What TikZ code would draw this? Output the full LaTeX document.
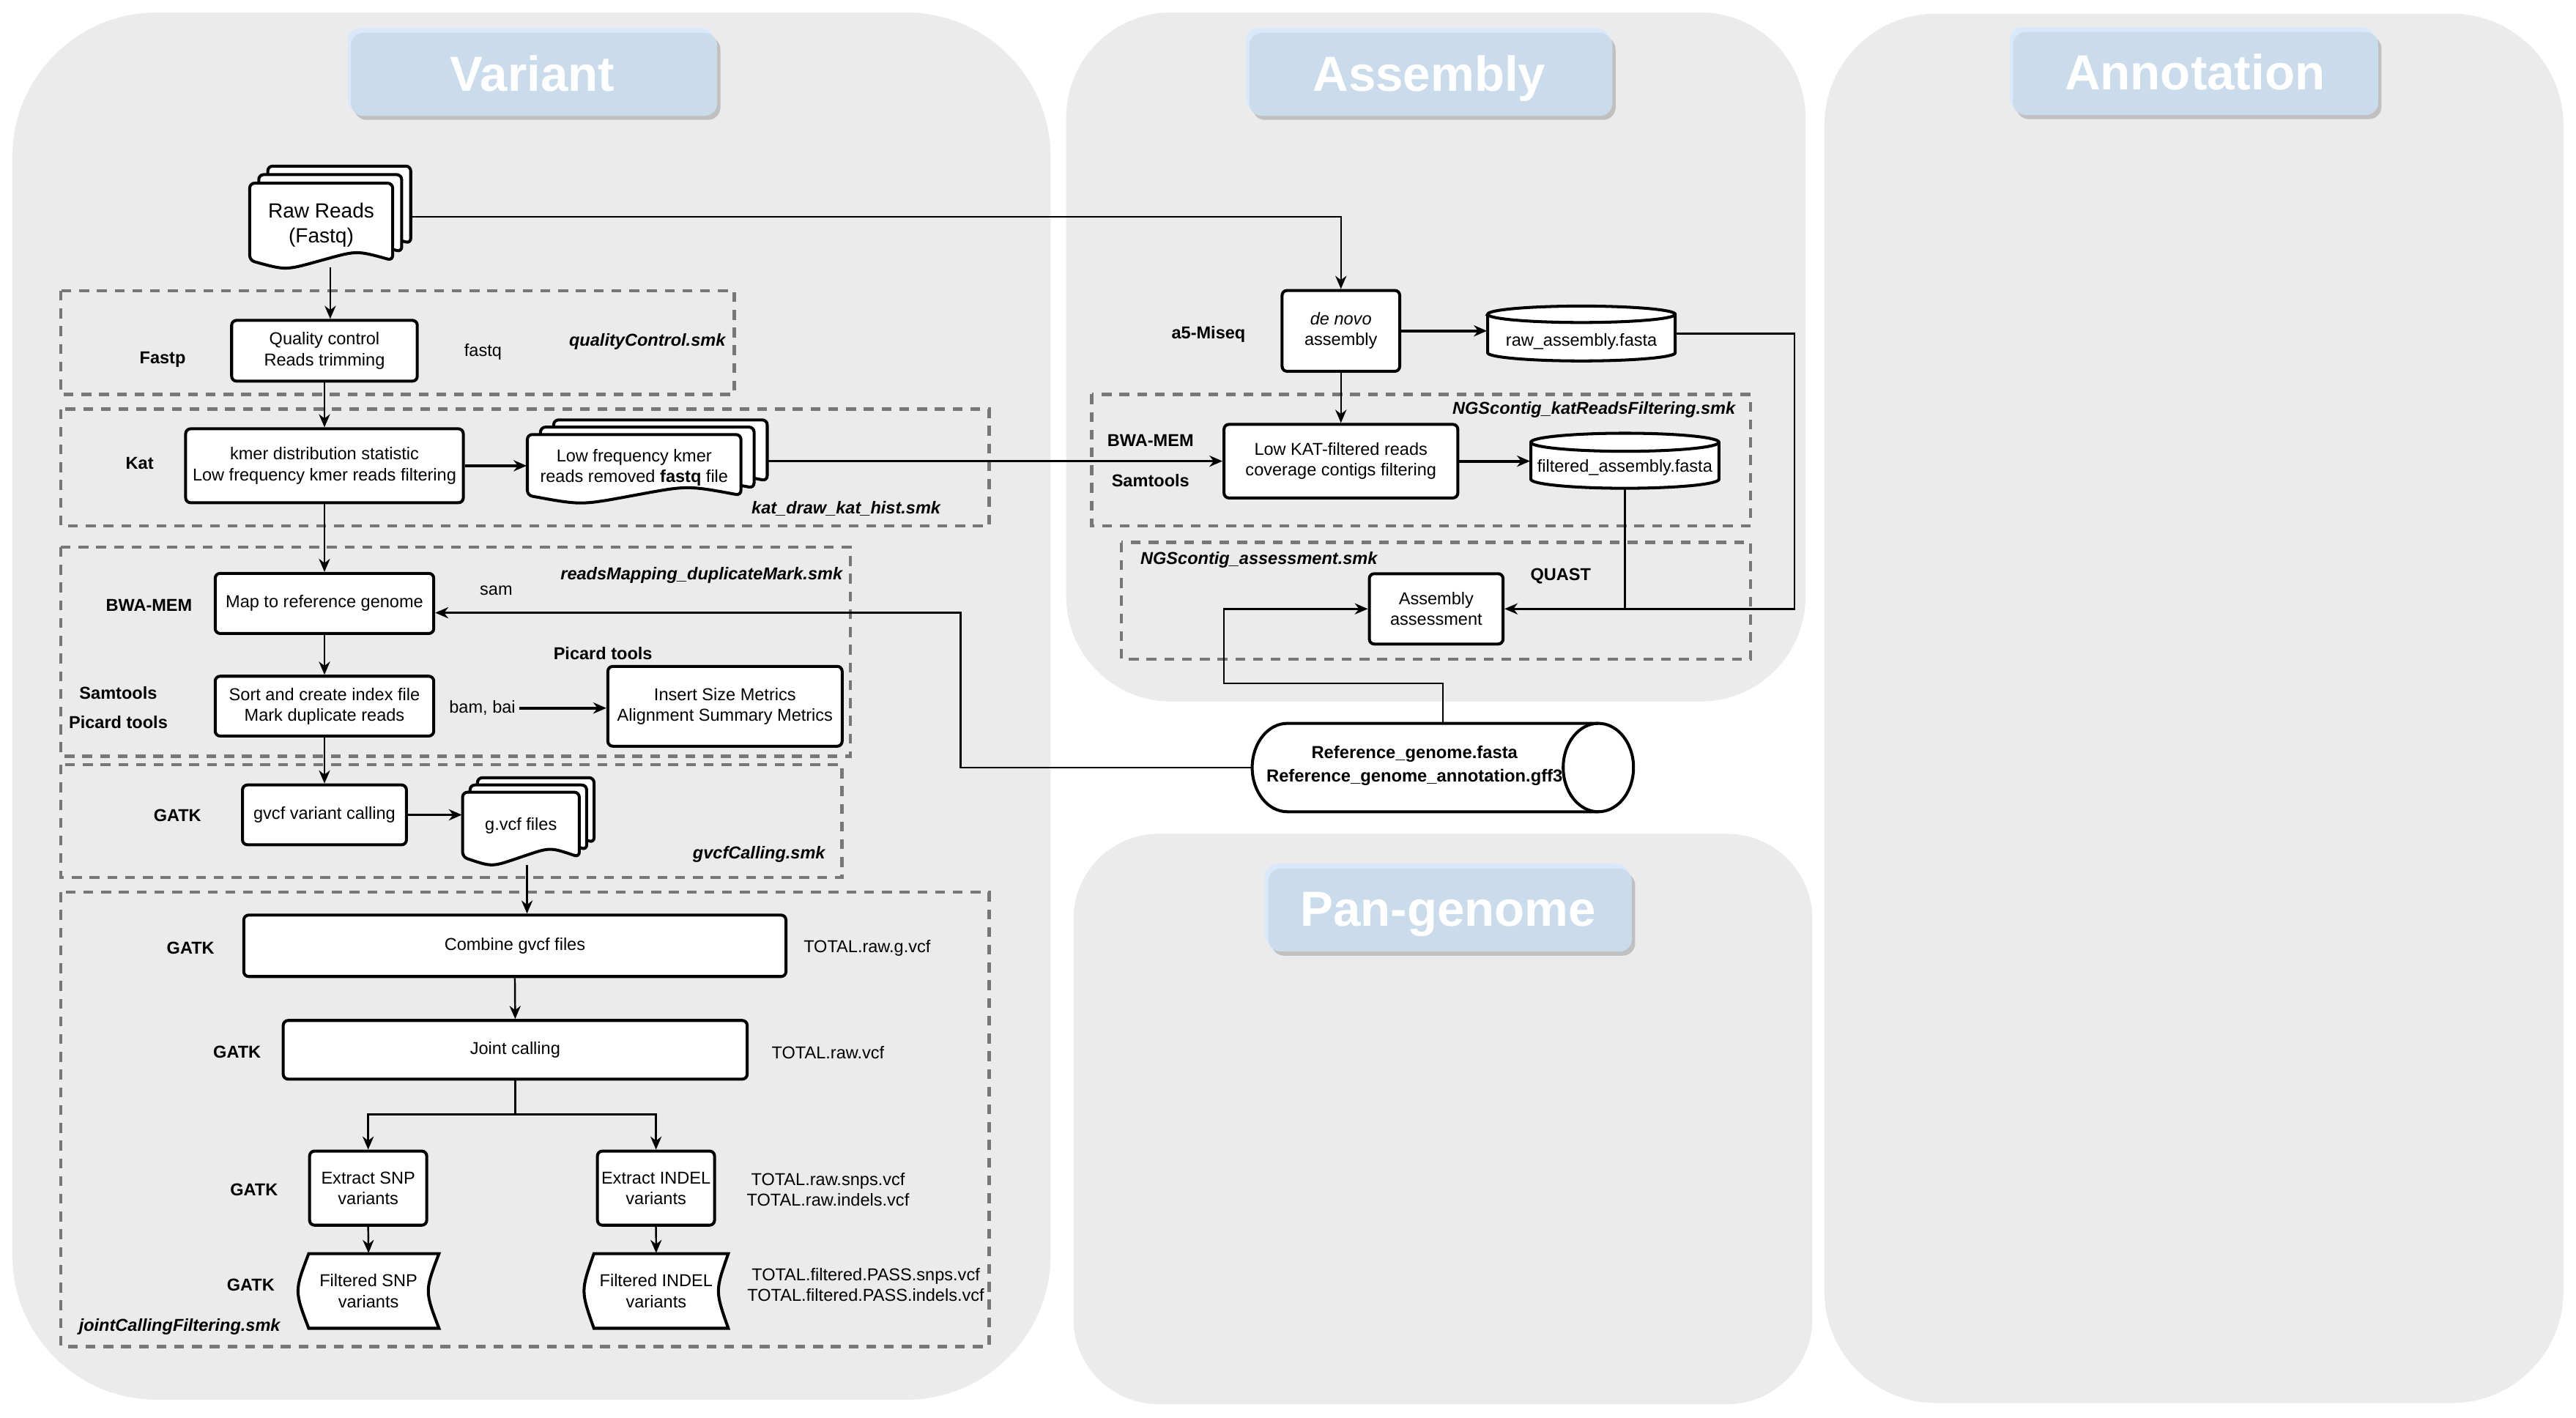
\documentclass[tikz,border=0pt]{standalone}
\usepackage{fontspec}
\setmainfont{Liberation Sans}
\usetikzlibrary{arrows.meta}
\definecolor{panelgray}{HTML}{EBEBEB}
\definecolor{titleblue}{HTML}{CADBEC}
\definecolor{titlelight}{HTML}{DAE8FC}
\definecolor{shadowgray}{HTML}{C0C0C0}
\definecolor{dashgray}{HTML}{777777}
\newcommand\fsn{\fontsize{5.25}{6.25}\selectfont}
% multi-document page: L T W H(wave ends)
\newcommand\mydoc[4]{%
  \path[shp, rounded corners=1.5pt] ({#1+0.5*#3},#2) -- (#1,#2) -- (#1,{#2+#4})
    .. controls ({#1+0.25*#3},{#2+#4+6}) .. ({#1+0.5*#3},{#2+#4})
    .. controls ({#1+0.75*#3},{#2+#4-6}) .. ({#1+#3},{#2+#4})
    -- ({#1+#3},#2) -- cycle;}
% stored data: L T R B dx
\newcommand\mystored[5]{%
  \path[shp] ({(#1+#3)/2},#2) -- (#3,#2)
    .. controls ({#3-1.333*#5},{(#2+#4)/2}) .. (#3,#4)
    -- ({#1+#5},#4)
    .. controls ({#1-0.333*#5},{(#2+#4)/2}) .. ({#1+#5},#2) -- cycle;}
% title box: L T R B of body
\newcommand\mytitlebox[4]{%
  \fill[shadowgray, rounded corners=3.8pt] ({#1+2},{#2+2.5}) rectangle ({#3+2},{#4+2.5});
  \fill[titlelight, rounded corners=3.8pt] ({#1-2},{#2-3}) rectangle ({#3-2},{#4-2.5});
  \fill[titleblue, rounded corners=3.8pt] (#1,#2) rectangle (#3,#4);}
\begin{document}
\begin{tikzpicture}[x=0.5pt,y=-0.5pt,
  shp/.style={draw=black, fill=white, line width=0.9pt},
  proc/.style={shp, rounded corners=1.5pt, align=center, inner sep=0pt, font=\fsn},
  ghost/.style={inner sep=0pt},
  txt/.style={align=center, inner sep=1pt, font=\fsn},
  tool/.style={align=center, inner sep=1pt, font=\fsn\bfseries},
  smk/.style={align=center, inner sep=1pt, font=\fsn\bfseries\itshape},
  ttl/.style={text=white, inner sep=0pt, font=\fontsize{15}{18}\selectfont\bfseries, text height=10.8pt, text depth=0pt},
  grp/.style={draw=dashgray, line width=1pt, dash pattern=on 3pt off 2.4pt},
  conn/.style={line width=0.55pt},
  arr/.style={conn, -{Stealth[length=4pt,width=3.4pt,inset=1.3pt]}},
  tarr/.style={arr, line width=0.85pt},
]
\fill[white] (0,0) rectangle (1568,862.7);
\useasboundingbox (0,0) rectangle (1568,862.7);

% ---------- panels ----------
\fill[panelgray, rounded corners=44pt] (7.5,7.6) rectangle (639.5,852);
\fill[panelgray, rounded corners=32pt] (649,7.6) rectangle (1099,427);
\fill[panelgray, rounded corners=34pt] (1110.5,8.3) rectangle (1560.3,854);
\fill[panelgray, rounded corners=26pt] (653.4,507.5) rectangle (1103.2,854.7);

% ---------- titles ----------
\mytitlebox{213.6}{20}{436.5}{70.5}
\node[ttl] (tvar) at (324,44.5) {Variant};
\mytitlebox{760.5}{20}{981.4}{70.5}
\node[ttl] (tasm) at (870,44.5) {Assembly};
\mytitlebox{1225.3}{19.5}{1447.6}{70}
\node[ttl] (tann) at (1336,44) {Annotation};
\mytitlebox{772}{528.7}{993.3}{579.2}
\node[ttl] (tpan) at (881.5,553) {Pan-genome};

% ---------- dashed groups ----------
\draw[grp] (37,177) rectangle (447,240);
\draw[grp] (37,249) rectangle (602,320.2);
\draw[grp] (37,333) rectangle (517.5,460.3);
\draw[grp] (37,465.4) rectangle (512.5,534.2);
\draw[grp] (37,543.1) rectangle (602,819.6);
\draw[grp] (664.6,240) rectangle (1065.6,320.2);
\draw[grp] (682.5,330.2) rectangle (1065.6,401.2);

% ---------- documents ----------
\mydoc{163}{101.1}{87}{47}
\mydoc{157.5}{106.3}{87}{47}
\mydoc{152}{111.5}{87}{47}
\node[ghost, align=center, font=\fontsize{6.25}{7.5}\selectfont, minimum width=43.5pt, minimum height=25.5pt] (raw) at (195.5,137) {Raw Reads\\(Fastq)};

\mydoc{337}{255.6}{130}{37}
\mydoc{329}{260}{130}{37}
\mydoc{321}{264.5}{130}{37}
\node[txt, inner sep=0pt, minimum width=65pt, minimum height=20.75pt] (lf) at (386,284.5) {Low frequency kmer\\reads removed \textbf{fastq} file};

\mydoc{290.6}{473.4}{71}{39.5}
\mydoc{286.1}{477.8}{71}{39.5}
\mydoc{281.6}{482.2}{71}{39.5}
\node[txt, inner sep=0pt, minimum width=35.5pt, minimum height=21.9pt, text depth=2.4pt] (gv) at (317.1,504.1) {g.vcf files};

% ---------- process boxes ----------
\node[proc, minimum width=56.5pt, minimum height=18.5pt] (qc) at (197.5,213.5) {Quality control\\Reads trimming};
\node[proc, minimum width=84.5pt, minimum height=22.5pt] (kmer) at (197.5,283.5) {kmer distribution statistic\\Low frequency kmer reads filtering};
\node[proc, minimum width=66.5pt, minimum height=18.3pt] (map) at (197.5,367.3) {Map to reference genome};
\node[proc, minimum width=66.5pt, minimum height=18.2pt] (sort) at (197.5,429.8) {Sort and create index file\\Mark duplicate reads};
\node[proc, minimum width=71.3pt, minimum height=24.3pt] (insert) at (441.3,429.9) {Insert Size Metrics\\Alignment Summary Metrics};
\node[proc, minimum width=49.9pt, minimum height=18.2pt] (gvcf) at (197.5,496) {gvcf variant calling};
\node[proc, minimum width=165pt, minimum height=18.7pt] (combine) at (313.4,575.7) {Combine gvcf files};
\node[proc, minimum width=141.2pt, minimum height=17.85pt] (joint) at (313.6,639) {Joint calling};
\node[proc, minimum width=35.65pt, minimum height=22.55pt] (exsnp) at (224.1,723.2) {Extract SNP\\variants};
\node[proc, minimum width=35.65pt, minimum height=22.55pt] (exindel) at (399.3,723.2) {Extract INDEL\\variants};

\mystored{181.4}{763.1}{267.2}{808.5}{6.5}
\node[txt, inner sep=0pt, minimum width=42.9pt, minimum height=22.7pt] (fsnp) at (224.3,785.8) {Filtered SNP\\variants};
\mystored{355.5}{763.1}{443.3}{808.5}{6}
\node[txt, inner sep=0pt, minimum width=43.9pt, minimum height=22.7pt] (findel) at (399.4,785.8) {Filtered INDEL\\variants};

\node[proc, minimum width=35.8pt, minimum height=24.6pt] (denovo) at (816.2,201.4) {\textit{de novo}\\assembly};
\node[proc, minimum width=71.15pt, minimum height=22.4pt] (lowkat) at (816.2,280.7) {Low KAT-filtered reads\\coverage contigs filtering};
\node[proc, minimum width=40.7pt, minimum height=21.4pt] (assess) at (874.2,370.6) {Assembly\\assessment};

% ---------- cylinders ----------
\path[shp] (905.5,191.3) -- (905.5,214.7) arc[start angle=180,end angle=360,x radius=28.55pt,y radius=2.5pt] -- (1019.7,191.3) arc[start angle=0,end angle=180,x radius=28.55pt,y radius=2.5pt] -- cycle;
\draw[line width=0.9pt] (905.5,191.3) arc[start angle=180,end angle=360,x radius=28.55pt,y radius=2.5pt];
\node[ghost, minimum width=57.1pt, minimum height=16.7pt] (rawasm) at (962.6,203) {};
\node[txt] (rawasmt) at (962.6,207.8) {raw\_assembly.fasta};

\path[shp] (931.8,269.2) -- (931.8,291.7) arc[start angle=180,end angle=360,x radius=28.625pt,y radius=2.75pt] -- (1046.3,269.2) arc[start angle=0,end angle=180,x radius=28.625pt,y radius=2.75pt] -- cycle;
\draw[line width=0.9pt] (931.8,269.2) arc[start angle=180,end angle=360,x radius=28.625pt,y radius=2.75pt];
\node[ghost, minimum width=57.25pt, minimum height=16.75pt] (filtasm) at (989,280.5) {};
\node[txt] (filtasmt) at (989,284.5) {filtered\_assembly.fasta};

\path[shp] (783.6,440.3) arc[start angle=90,end angle=270,x radius=10.7pt,y radius=13.45pt] -- (972.9,494.1) arc[start angle=-90,end angle=90,x radius=10.7pt,y radius=13.45pt] -- cycle;
\draw[line width=0.9pt] (972.9,440.3) arc[start angle=90,end angle=270,x radius=10.7pt,y radius=13.45pt];
\node[ghost, minimum width=116pt, minimum height=26.9pt] (ref) at (878.25,467.2) {};
\node[align=center, inner sep=0pt, font=\fontsize{5.3}{7.15}\selectfont\bfseries] (reft) at (861,466.2) {Reference\_genome.fasta\\Reference\_genome\_annotation.gff3};

% ---------- labels ----------
\node[tool] (lfastp) at (99,219) {Fastp};
\node[txt] (lfastq) at (294,214) {fastq};
\node[smk] (lqc) at (394,208) {qualityControl.smk};
\node[tool] (lkat) at (85,282) {Kat};
\node[smk] (lkatsmk) at (515,309.8) {kat\_draw\_kat\_hist.smk};
\node[smk] (lrm) at (427,350) {readsMapping\_duplicateMark.smk};
\node[txt] (lsam) at (302,359.6) {sam};
\node[tool] (lbwa) at (90.7,368.5) {BWA-MEM};
\node[tool] (lpic1) at (367,397.8) {Picard tools};
\node[tool] (lsamt) at (72,421.7) {Samtools};
\node[tool] (lpic2) at (72,439.5) {Picard tools};
\node[txt] (bambai) at (293.6,431) {bam, bai};
\node[tool] (lg1) at (108,496.6) {GATK};
\node[smk] (lgvcf) at (462,520.1) {gvcfCalling.smk};
\node[tool] (lg2) at (116,577) {GATK};
\node[txt] (lrawg) at (527.8,577) {TOTAL.raw.g.vcf};
\node[tool] (lg3) at (144.3,640.5) {GATK};
\node[txt] (lrawv) at (504,640.5) {TOTAL.raw.vcf};
\node[tool] (lg4) at (154.6,724) {GATK};
\node[txt] (lrawsi) at (504,724.2) {TOTAL.raw.snps.vcf\\TOTAL.raw.indels.vcf};
\node[tool] (lg5) at (152.6,782.2) {GATK};
\node[txt] (lpass) at (527,782.1) {TOTAL.filtered.PASS.snps.vcf\\TOTAL.filtered.PASS.indels.vcf};
\node[smk] (ljc) at (109.3,807.7) {jointCallingFiltering.smk};
\node[tool] (la5) at (735.6,203.5) {a5-Miseq};
\node[smk] (lngk) at (970.2,249.6) {NGScontig\_katReadsFiltering.smk};
\node[tool] (lbwa2) at (700.3,268.2) {BWA-MEM};
\node[tool] (lsamt2) at (700.3,292.4) {Samtools};
\node[smk] (lnga) at (766.3,341) {NGScontig\_assessment.smk};
\node[tool] (lquast) at (950,350.7) {QUAST};

% ---------- connectors ----------
\coordinate (refturn) at (584.7,467.2);
\coordinate (split) at (313.6,678.4);
\coordinate (rawturn) at (1092.2,370.6);
\coordinate (refturn2) at (745,416);

\draw[arr] ([xshift=2.75pt]raw.south) -- ([xshift=2.75pt]raw.south |- qc.north);
\draw[arr] ([xshift=5.6pt,yshift=2.5pt]raw.east) -| (denovo.north);
\draw[arr] (qc.south) -- (kmer.north);
\draw[tarr] (kmer.east) -- (kmer.east -| lf.west);
\draw[arr] ([xshift=8pt]lowkat.west -| lf.east) -- (lowkat.west);
\draw[arr] (kmer.south) -- (map.north);
\draw[arr] (ref.west) -- (refturn) |- ([yshift=-2.85pt]map.east);
\draw[arr] (map.south) -- (sort.north);
\draw[tarr] (bambai.east) -- (bambai.east -| insert.west);
\draw[arr] (sort.south) -- (gvcf.north);
\draw[tarr] (gvcf.east) -- (gvcf.east -| gv.west);
\draw[arr] ([xshift=1.85pt]gv.south) -- ([xshift=1.85pt]gv.south |- combine.north);
\draw[arr] (combine.south) -- (joint.north);
\draw[conn] (joint.south) -- (split);
\draw[arr] (split) -| (exsnp.north);
\draw[arr] (split) -| (exindel.north);
\draw[arr] (exsnp.south) -- (fsnp.north);
\draw[arr] (exindel.south) -- (findel.north);

\draw[tarr] (denovo.east) -- (denovo.east -| rawasm.west);
\draw[arr] (denovo.south) -- (lowkat.north);
\draw[tarr] (lowkat.east) -- (lowkat.east -| filtasm.west);
\draw[arr] (rawasm.east) -| (rawturn) -- (assess.east);
\draw[conn] (filtasm.south) -- (filtasm.south |- assess.east);
\draw[arr] (ref.north) |- (refturn2) |- (assess.west);
\end{tikzpicture}
\end{document}
